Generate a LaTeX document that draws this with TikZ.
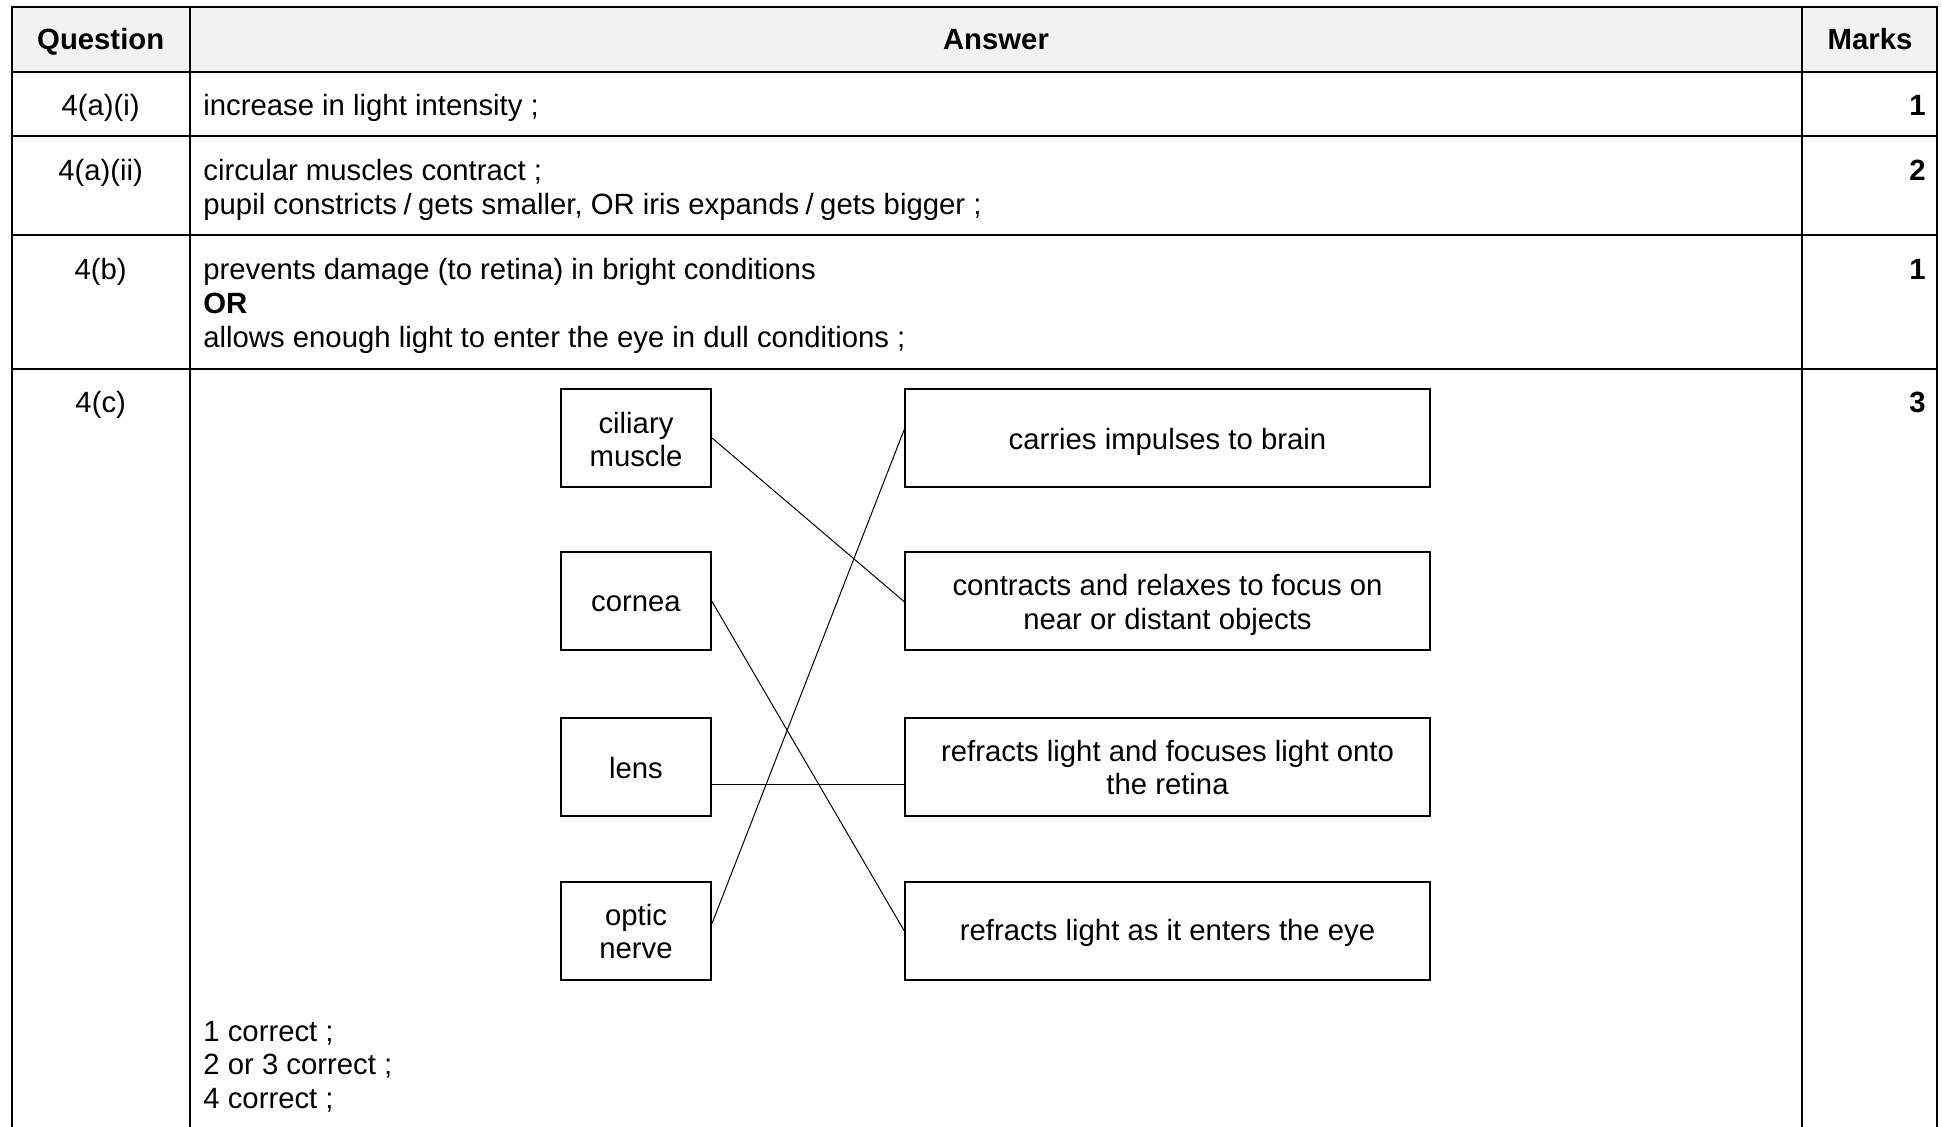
\documentclass[tikz,border=0pt]{standalone}
\usepackage{fontspec}
\setmainfont{Liberation Sans}
\usetikzlibrary{calc}
\begin{document}
\begin{tikzpicture}[x=0.5pt,y=-0.5pt,
  every node/.style={font=\fontsize{14.65pt}{16.75pt}\selectfont, inner sep=0pt},
  grid/.style={line width=1pt, black},
  hdr/.style={font=\fontsize{14.65pt}{16.75pt}\selectfont\bfseries, anchor=base},
  qcell/.style={anchor=base},
  acell/.style={anchor=base west},
  mcell/.style={font=\fontsize{14.65pt}{16.75pt}\selectfont\bfseries, anchor=base east},
  lbox/.style={draw, line width=1pt, minimum width=75pt, minimum height=49pt},
  rbox/.style={draw, line width=1pt, minimum width=262.5pt, minimum height=49pt},
  boxtext/.style={align=center},
  link/.style={line width=0.5pt, black}
]
\useasboundingbox (0,0) rectangle (1942,1127);
% header fill
\fill[black!5] (12,7) rectangle (1937,72);
% grid
\draw[grid] (12,1127) -- (12,7) -- (1937,7) -- (1937,1127);
\draw[grid] (189.5,7) -- (189.5,1127);
\draw[grid] (1802,7) -- (1802,1127);
\foreach \yy in {72,136.5,235.5,369} \draw[grid] (12,\yy) -- (1937,\yy);
% header
\node[hdr] (hq) at (100.7,50) {Question};
\node[hdr] (ha) at (996,50) {Answer};
\node[hdr] (hm) at (1870,50) {Marks};
% row 1
\node[qcell] (q1) at (100.7,116) {4(a)(i)};
\node[acell] (a1) at (203,116) {increase in light intensity ;};
\node[mcell] (m1) at (1926,116) {1};
% row 2
\node[qcell] (q2) at (100.7,181) {4(a)(ii)};
\node[acell] (a2a) at (203,181) {circular muscles contract ;};
\node[acell] (a2b) at (203,215) {pupil constricts\hspace{0.22em}/\hspace{0.22em}gets smaller, OR iris expands\hspace{0.22em}/\hspace{0.22em}gets bigger ;};
\node[mcell] (m2) at (1926,181) {2};
% row 3
\node[qcell] (q3) at (100.7,280) {4(b)};
\node[acell] (a3a) at (203,280) {prevents damage (to retina) in bright conditions};
\node[acell, font=\fontsize{14.65pt}{16.75pt}\selectfont\bfseries] (a3b) at (203,314) {OR};
\node[acell] (a3c) at (203,348) {allows enough light to enter the eye in dull conditions ;};
\node[mcell] (m3) at (1926,280) {1};
% row 4
\node[qcell] (q4) at (100.7,413) {4(c)};
\node[mcell] (m4) at (1926,413) {3};
% matching boxes
\node[lbox] (cil) at (636,438) {};
\node[lbox] (cor) at (636,601.5) {};
\node[lbox] (len) at (636,766.5) {};
\node[lbox] (opt) at (636,930.5) {};
\node[rbox] (r1) at (1167.5,438) {};
\node[rbox] (r2) at (1167.5,601.5) {};
\node[rbox] (r3) at (1167.5,766.5) {};
\node[rbox] (r4) at (1167.5,930.5) {};
\node[boxtext] (tcil) at ([yshift=-0.8pt]cil.center) {ciliary\\muscle};
\node[boxtext] (tcor) at ([yshift=-1.2pt]cor.center) {cornea};
\node[boxtext] (tlen) at ([yshift=-0.6pt]len.center) {lens};
\node[boxtext] (topt) at ([yshift=-0.5pt]opt.center) {optic\\nerve};
\node[boxtext] (tr1) at ([yshift=-1.8pt]r1.center) {carries impulses to brain};
\node[boxtext] (tr2) at ([yshift=-1.8pt]r2.center) {contracts and relaxes to focus on\\near or distant objects};
\node[boxtext] (tr3) at ([yshift=-0.6pt]r3.center) {refracts light and focuses light onto\\the retina};
\node[boxtext] (tr4) at ([yshift=-1.2pt]r4.center) {refracts light as it enters the eye};
% connectors
\draw[link] (cil.east) -- (r2.west);
\draw[link] (cor.east) -- (r4.west);
\draw[link] ([yshift=-8.75pt]len.east) -- ([yshift=-8.75pt]r3.west);
\draw[link] ([yshift=3.5pt]opt.east) -- ([yshift=4pt]r1.west);
% mark scheme lines
\node[acell] (c1) at (203,1041) {1 correct ;};
\node[acell] (c2) at (203,1074) {2 or 3 correct ;};
\node[acell] (c3) at (203,1108) {4 correct ;};
\end{tikzpicture}
\end{document}
